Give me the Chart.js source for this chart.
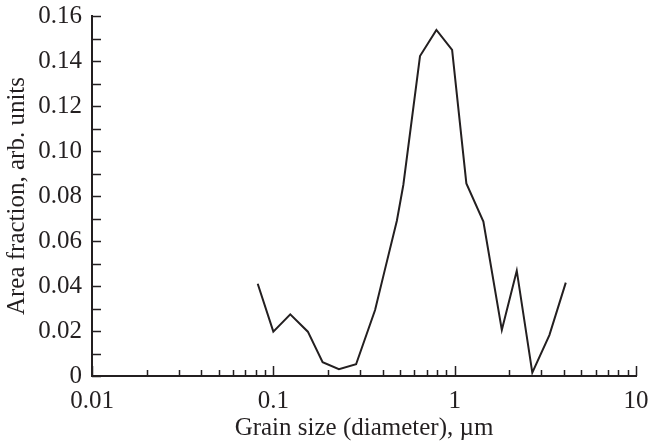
<!DOCTYPE html>
<html>
<head>
<meta charset="utf-8">
<script src="https://cdn.jsdelivr.net/npm/chart.js@4"></script>
<style>
  html, body { margin: 0; padding: 0; background: #fff; }
  #wrap { width: 648px; height: 443px; }
</style>
</head>
<body>
<div id="wrap"><canvas id="chart"></canvas></div>
<script>
// Grain size distribution
const grainSize = [0.082, 0.1, 0.124, 0.155, 0.187, 0.23, 0.286, 0.364, 0.413, 0.48, 0.521,
  0.644, 0.793, 0.968, 1.16, 1.44, 1.82, 2.2, 2.68, 3.33, 4.1];
const areaFraction = [0.041, 0.0197, 0.0274, 0.0197, 0.0061, 0.003, 0.0052, 0.0293, 0.0475, 0.069, 0.0849,
  0.1422, 0.1538, 0.1449, 0.0856, 0.0686, 0.0205, 0.0468, 0.0015, 0.0182, 0.0415];
const xTicks = [0.01, 0.1, 1, 10];
const yTicks = [0, 0.02, 0.04, 0.06, 0.08, 0.10, 0.12, 0.14, 0.16];

const ink = "#231f20";
const serif = "'Liberation Serif', 'DejaVu Serif', serif";
const tickFont = { family: serif, size: 25 };

// Ticks point into the plot, so draw them ourselves from the scales
const inwardTicks = {
  id: "inwardTicks",
  afterDraw(chart) {
    const ctx = chart.ctx;
    const x = chart.scales.x;
    const y = chart.scales.y;
    const area = chart.chartArea;
    ctx.save();
    ctx.strokeStyle = ink;
    ctx.lineWidth = 1.5;
    ctx.beginPath();
    // y: every 0.01
    for (let i = 0; i <= 16; i++) {
      const py = Math.round(y.getPixelForValue(i / 100)) + 0.5;
      ctx.moveTo(area.left, py);
      ctx.lineTo(area.left + 9, py);
    }
    // x: decades long, 2..9 short
    xTicks.forEach((d, k) => {
      for (let m = 1; m <= 9; m++) {
        const v = d * m;
        if (v > 10 || (k === xTicks.length - 1 && m > 1)) continue;
        const px = Math.round(x.getPixelForValue(v)) + 0.5;
        const len = m === 1 ? 10 : 6;
        ctx.moveTo(px, area.bottom);
        ctx.lineTo(px, area.bottom - len);
      }
    });
    ctx.stroke();
    ctx.restore();
  },
};

new Chart(document.getElementById("chart"), {
  type: "line",
  data: {
    datasets: [
      {
        data: grainSize.map((g, i) => ({ x: g, y: areaFraction[i] })),
        borderColor: ink,
        borderWidth: 2,
        pointRadius: 0,
        tension: 0,
        fill: false,
      },
    ],
  },
  plugins: [inwardTicks],
  options: {
    responsive: true,
    maintainAspectRatio: false,
    animation: false,
    layout: { padding: { top: 16, right: 12, left: 0, bottom: 0 } },
    plugins: {
      legend: { display: false },
      tooltip: { enabled: false },
    },
    scales: {
      x: {
        type: "logarithmic",
        min: 0.01,
        max: 10,
        afterBuildTicks: (scale) => {
          scale.ticks = xTicks.map((v) => ({ value: v }));
        },
        afterFit: (scale) => {
          scale.height = 67;
          scale.paddingLeft = 0;
          scale.paddingRight = 0;
        },
        grid: { display: false, drawTicks: false },
        border: { display: true, color: ink, width: 2 },
        ticks: {
          color: ink,
          font: tickFont,
          padding: 10,
          maxRotation: 0,
          autoSkip: false,
          callback: (value) => String(value),
        },
        title: {
          display: true,
          text: "Grain size (diameter), \u00b5m",
          color: ink,
          font: tickFont,
          padding: { top: 0, bottom: 0 },
        },
      },
      y: {
        min: 0,
        max: 0.16,
        afterBuildTicks: (scale) => {
          scale.ticks = yTicks.map((v) => ({ value: v }));
        },
        afterFit: (scale) => {
          scale.width = 92;
          scale.paddingTop = 0;
          scale.paddingBottom = 0;
        },
        grid: { display: false, drawTicks: false },
        border: { display: true, color: ink, width: 2 },
        ticks: {
          color: ink,
          font: tickFont,
          padding: 10,
          callback: (value) => (value === 0 ? "0" : value.toFixed(2)),
        },
        title: {
          display: true,
          text: "Area fraction, arb. units",
          color: ink,
          font: tickFont,
          padding: { top: 2, bottom: 0 },
        },
      },
    },
  },
});
</script>
</body>
</html>
